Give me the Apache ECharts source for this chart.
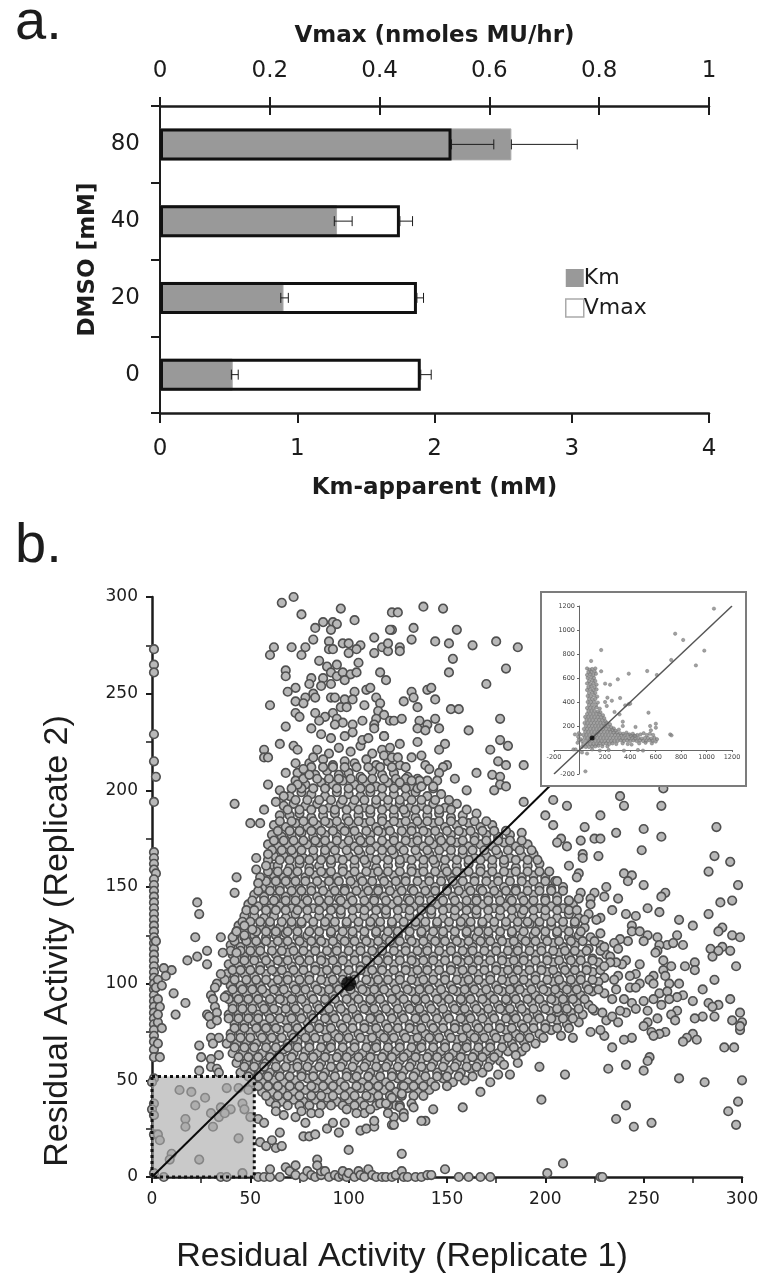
<!DOCTYPE html>
<html>
<head>
<meta charset="utf-8">
<title>DMSO kinetics and replicate scatter</title>
<script src="https://cdn.jsdelivr.net/npm/echarts@6/dist/echarts.min.js"></script>
<style>
  html, body { margin: 0; padding: 0; background: #fff; }
  #chart { width: 769px; height: 1283px; }
</style>
</head>
<body>
<div id="chart"></div>
<script>
// panel a
const dmsoLevels = ['0', '20', '40', '80'];
const kmValues = [0.53, 0.90, 1.29, 2.56];
const vmaxValues = [0.475, 0.468, 0.437, 0.531];
const kmErrors = [[0, 0.52, 0.57], [1, 0.88, 0.935], [2, 1.27, 1.40], [3, 2.56, 3.04]];
const vmaxErrors = [[0, 0.475, 0.494], [1, 0.468, 0.48], [2, 0.437, 0.46], [3, 0.531, 0.608]];

// panel b as [replicate 1, replicate 2]
const axisColumn = [[1,273],[1,265],[1,261],[1,229],[1,215],[2,207],[1,194],[1,168],[1,165],[1,162],[1,159],[2,157],[1,154],[1,151],[1,148],[1,145],[1,142],[1,139],[1,136],[1,133],[1,130],[1,127],[1,124],[1,121],[1,118],[1,115],[1,112],[1,109],[1,106],[1,103],[1,100],[1,97],[1,94],[1,91],[1,88],[1,85],[1,82],[1,79],[1,76],[1,73],[1,70],[1,66],[1,62],[1,51],[0,49],[1,38],[0,35],[1,32],[1,22],[1,2]];
const nearColumn = [[2,122],[10,107],[6,108],[7,104],[3,102],[2,98],[11,95],[17,90],[12,84],[3,80],[5,77],[3,69],[4,62],[3,22],[4,19],[6,0],[5,99],[3,92],[4,88],[3,84]];
const bottomRow = [[54,0],[57,0],[60,0],[60,4],[65,0],[68,5],[70,3],[73,1],[73,6],[77,0],[79,3],[81,1],[83,0],[86,1],[86,3],[88,3],[90,0],[93,1],[95,0],[97,1],[97,3],[99,0],[100,2],[103,0],[105,3],[106,1],[108,0],[110,4],[112,1],[114,0],[117,0],[119,0],[122,0],[124,1],[127,3],[128,0],[130,0],[134,0],[137,0],[140,1],[142,1],[149,4],[156,0],[161,0],[167,0],[172,0],[201,2],[209,7],[228,0],[229,0],[127,12],[100,14],[84,9],[84,6]];
const boxPoints = [[14,45],[20,44],[27,41],[22,37],[30,33],[17,30],[17,26],[31,26],[35,36],[40,35],[34,31],[37,33],[46,38],[47,35],[50,31],[38,46],[44,46],[49,45],[44,20],[10,12],[9,9],[24,9],[46,2],[35,0],[38,0],[54,30],[57,28],[55,18],[58,16],[61,19],[63,15],[66,16],[65,23]];
const leftEdge = [[23,142],[24,136],[42,147],[22,124],[35,124],[41,124],[43,127],[47,130],[47,125],[51,128],[28,117],[36,116],[23,114],[18,112],[28,110],[43,116],[35,105],[33,100],[32,98],[30,94],[31,92],[37,93],[32,88],[33,85],[28,84],[29,83],[30,79],[33,81],[30,72],[34,72],[31,69],[24,68],[25,62],[30,61],[34,63],[30,57],[24,55],[33,56],[34,54],[42,193],[50,183],[55,183],[57,190],[53,165],[59,167],[58,161],[53,159],[43,155],[55,155],[54,152],[57,221],[57,217],[59,217],[65,224],[72,223],[74,221],[82,217],[73,214],[77,211],[68,209],[80,208],[59,203],[65,200],[67,197],[63,194],[74,203],[71,201]];
const upperPoints = [[66,297],[72,300],[76,291],[96,294],[87,287],[92,287],[94,286],[83,284],[91,283],[103,288],[122,292],[125,292],[122,283],[82,278],[113,279],[90,277],[97,276],[100,276],[106,275],[62,274],[71,274],[78,274],[117,274],[60,270],[76,270],[90,273],[92,273],[100,271],[104,273],[113,271],[120,272],[85,267],[89,264],[94,265],[105,266],[68,262],[68,259],[91,261],[94,259],[97,261],[101,260],[104,261],[116,261],[119,257],[81,258],[87,258],[98,257],[80,255],[73,253],[86,254],[91,255],[82,250],[69,251],[103,251],[109,252],[111,253],[114,248],[83,248],[78,248],[73,246],[77,245],[91,248],[93,248],[98,247],[102,247],[96,243],[99,243],[108,244],[60,244],[116,245],[73,240],[75,238],[83,240],[92,240],[115,241],[118,239],[88,238],[85,236],[94,237],[107,236],[114,237],[121,236],[123,236],[97,235],[113,234],[102,234],[93,234],[81,232],[68,233],[113,232],[102,230],[86,229],[91,227],[98,228],[107,226],[110,227],[118,228],
  [138,295],[148,294],[121,283],[133,284],[155,283],[132,278],[144,277],[151,276],[163,275],[175,277],[186,274],[120,276],[126,274],[126,272],[153,268],[151,261],[180,263],[170,255],[132,251],[140,252],[142,253],[133,248],[144,247],[128,246],[135,243],[152,242],[156,242],[177,237],[127,237],[136,236],[140,234],[144,237],[135,232],[139,231],[146,232],[161,231],[118,228],[126,224],[135,225],[177,226],[181,223],[121,222],[149,224],[146,221],[172,221],[137,218],[132,217],[118,218],[122,217],[125,217],[176,215],[180,213],[189,213],[139,213],[141,211],[150,213],[148,212],[129,212],[146,209],[165,209],[173,208],[177,207],[154,206],[177,203],[180,202],[145,205],[140,205],[136,205],[132,205],[126,204],[137,202],[143,202],[160,200],[174,200]];
const rightPoints = [[260,201],[238,197],[240,192],[259,192],[204,195],[211,192],[189,194],[228,187],[200,187],[204,182],[220,181],[236,178],[250,180],[287,181],[259,176],[218,174],[225,175],[228,175],[208,175],[206,173],[249,169],[211,171],[219,167],[219,165],[227,166],[286,166],[294,163],[283,158],[212,161],[217,157],[216,155],[240,157],[244,156],[242,153],[298,151],[250,151],[231,150],[261,147],[259,145],[225,147],[230,145],[218,147],[217,144],[223,144],[237,144],[295,143],[289,142],[223,141],[252,139],[258,137],[234,138],[241,136],[283,136],[222,136],[246,135],[268,133],[220,133],[228,134],[226,133],[244,130],[275,130],[290,129],[288,127],[244,127],[248,127],[228,126],[252,125],[295,125],[299,124],[267,125],[257,124],[250,122],[242,122],[238,123],[235,121],[262,120],[265,121],[270,120],[258,120],[237,118],[230,119],[290,119],[284,118],[288,117],[294,117],[257,117],[256,116],[285,114],[233,114],[260,112],[241,112],[239,110],[236,111],[233,111],[248,110],[264,109],[276,111],[271,109],[276,107],[297,109],[260,107],[230,109],[246,105],[237,104],[235,102],[243,104],[255,104],[261,104],[253,102],[255,100],[263,100],[268,100],[286,102],[248,100],[243,98],[246,98],[236,97],[280,97],[258,95],[262,96],[270,94],[267,93],[263,92],[294,92],[275,91],[283,90],[288,89],[285,88],[255,92],[250,91],[244,90],[240,92],[234,92],[259,89],[267,86],[264,84],[252,86],[246,87],[241,85],[238,86],[231,81],[234,83],[229,85],[299,85],[286,83],[280,83],[276,82],[257,82],[266,81],[237,80],[300,80],[295,81],[252,80],[250,78],[299,76],[299,78],[261,75],[258,74],[254,75],[255,73],[275,74],[272,72],[270,70],[277,71],[244,72],[240,71],[230,73],[228,76],[234,67],[291,67],[296,67],[223,75],[253,62],[252,60],[250,55],[241,58],[232,56],[210,53],[197,57],[268,51],[281,49],[300,50],[198,40],[298,39],[293,34],[297,27],[241,37],[236,30],[245,26],[254,28],[158,36],[143,35],[167,44],[172,49],[182,53],[176,53],[186,59],[185,63],[179,58],[139,29],[137,29],[132,38],[133,36],[128,47],[127,43],[126,36],[128,33],[128,31],[123,27]];
const lowerEdge = [[77,21],[80,21],[83,22],[95,23],[98,28],[89,25],[106,24],[109,25],[113,26],[113,29],[108,33],[111,35],[122,27],[123,31],[120,33],[73,31],[76,34],[67,32],[63,34],[78,28],[92,28],[81,33],[85,33],[99,35],[104,33],[116,38],[119,38],[122,41]];
const denseCloud = [
  [84,221],[90,219],[95,222],[101,220],[106,223],[112,219],[117,221],
  [80,214],[87,216],[92,213],[98,215],[103,214],[109,216],[114,213],[120,215],[126,213],
  [74,209],[83,208],[89,210],[95,208],[100,209],[106,207],[112,210],[117,208],[123,209],[130,207],
  [73,205],[78,203],[86,204],[92,203],[97,205],[103,203],[109,204],[114,202],[120,204],[126,203],[132,202],[138,204],
  [70,197],[76,199],[81,198],[88,197],[94,199],[100,198],[106,197],[111,199],[117,197],[123,198],[129,197],[134,199],[140,197],[147,198],
  [67,192],[72,193],[78,192],[84,193],[90,191],[96,193],[102,192],[108,191],[114,193],[120,192],[126,193],[131,191],[137,192],[143,193],[149,191],[155,193],
  [65,187],[70,187],[75,188],[81,186],[87,187],[93,188],[99,186],[105,187],[111,188],[117,186],[123,187],[129,188],[134,186],[140,187],[146,188],[152,186],[158,187],[165,188],
  [62,182],[68,181],[73,183],[79,181],[84,182],[90,183],[96,181],[102,182],[108,183],[114,181],[120,182],[126,183],[132,181],[137,182],[143,183],[149,181],[155,182],[161,183],[167,181],[173,182],
  [61,177],[66,176],[71,177],[76,178],[82,176],[88,177],[94,176],[100,178],[105,176],[111,177],[117,178],[123,176],[129,177],[135,176],[140,178],[146,176],[152,177],[158,178],[164,176],[170,177],[176,176],[182,177],[188,178],
  [59,172],[64,171],[69,172],[74,171],[79,172],[85,173],[91,171],[97,172],[103,171],[108,173],[114,171],[120,172],[126,171],[132,173],[138,171],[143,172],[149,171],[155,173],[161,171],[167,172],[173,171],[179,173],[185,171],[191,172],
  [62,166],[67,166],[72,167],[77,165],[82,166],[88,167],[94,165],[100,166],[106,167],[111,165],[117,166],[123,167],[129,165],[135,166],[141,167],[146,165],[152,166],[158,167],[164,165],[170,166],[176,167],[182,165],[188,166],[194,167],
  [60,161],[64,161],[70,160],[75,162],[80,160],[85,161],[91,162],[97,160],[103,161],[109,162],[114,160],[120,161],[126,162],[132,160],[138,161],[144,162],[149,160],[155,161],[161,162],[167,160],[173,161],[179,162],[185,160],[191,161],[197,162],
  [62,156],[67,155],[72,156],[78,155],[83,156],[88,157],[94,155],[100,156],[106,155],[112,157],[117,155],[123,156],[129,155],[135,157],[141,155],[147,156],[152,155],[158,157],[164,155],[170,156],[176,155],[182,157],[188,155],[194,156],[200,155],[205,153],
  [57,150],[60,151],[65,150],[70,151],[75,149],[81,150],[86,151],[92,150],[98,149],[103,151],[109,150],[115,149],[120,151],[126,150],[132,149],[138,151],[144,150],[150,149],[155,151],[161,150],[167,149],[173,151],[179,150],[185,149],[191,151],[197,150],[203,149],[209,150],
  [52,146],[57,145],[63,144],[68,145],[73,146],[78,144],[84,145],[90,146],[95,144],[101,145],[107,146],[113,144],[118,145],[124,146],[130,144],[136,145],[141,146],[147,144],[153,145],[159,146],[165,144],[171,145],[176,146],[182,144],[188,145],[194,146],[200,144],[206,145],[212,143],
  [49,141],[54,140],[60,139],[65,140],[71,139],[76,141],[82,139],[87,140],[93,139],[99,141],[105,139],[110,140],[116,139],[122,141],[128,139],[133,140],[139,139],[145,141],[151,139],[156,140],[162,139],[168,141],[174,139],[180,140],[186,139],[191,141],[197,139],[203,140],[209,139],[214,141],
  [47,135],[52,135],[57,134],[62,135],[68,134],[73,136],[79,134],[85,135],[90,134],[96,136],[102,134],[108,135],[113,134],[119,136],[125,134],[131,135],[136,134],[142,136],[148,134],[154,135],[159,134],[165,136],[171,134],[177,135],[183,134],[188,136],[194,134],[200,135],[206,134],[212,136],[217,134],
  [44,130],[49,130],[55,129],[60,130],[65,129],[71,130],[76,131],[82,129],[88,130],[93,129],[99,131],[105,129],[111,130],[116,129],[122,131],[128,129],[134,130],[139,129],[145,131],[151,129],[157,130],[162,129],[168,131],[174,129],[180,130],[186,129],[192,131],[197,129],[203,130],[209,129],[215,131],[220,129],
  [42,125],[47,124],[52,125],[58,124],[63,125],[68,126],[74,124],[79,125],[85,124],[91,126],[96,124],[102,125],[108,124],[114,126],[119,124],[125,125],[131,124],[137,126],[142,124],[148,125],[154,124],[160,126],[165,124],[171,125],[177,124],[183,126],[188,124],[194,125],[200,124],[206,126],[212,124],[217,125],[223,124],
  [40,120],[45,119],[50,120],[55,119],[61,120],[66,121],[71,119],[77,120],[83,119],[88,121],[94,119],[100,120],[106,119],[111,121],[117,119],[123,120],[129,119],[134,121],[140,119],[146,120],[152,119],[157,121],[163,119],[169,120],[175,119],[181,121],[186,119],[192,120],[198,119],[204,121],[209,119],[215,120],[222,118],[228,120],
  [41,115],[47,114],[52,115],[57,114],[63,115],[69,116],[74,114],[80,115],[86,114],[91,116],[97,114],[103,115],[109,114],[114,116],[120,114],[126,115],[132,114],[137,116],[143,114],[149,115],[155,114],[160,116],[166,114],[172,115],[178,114],[184,116],[189,114],[195,115],[201,114],[207,116],[212,114],[218,115],[224,113],[231,115],
  [39,110],[44,109],[49,110],[55,109],[60,110],[66,111],[71,109],[77,110],[83,109],[88,111],[94,109],[100,110],[106,109],[111,111],[117,109],[123,110],[129,109],[134,111],[140,109],[146,110],[152,109],[157,111],[163,109],[169,110],[175,109],[181,111],[186,109],[192,110],[198,109],[204,111],[209,109],[215,110],[221,109],[227,111],
  [38,105],[42,104],[47,105],[52,104],[58,105],[63,106],[69,104],[74,105],[80,104],[86,106],[91,104],[97,105],[103,104],[109,106],[114,104],[120,105],[126,104],[132,106],[137,104],[143,105],[149,104],[155,106],[160,104],[166,105],[172,104],[178,106],[183,104],[189,105],[195,104],[201,106],[206,104],[212,105],[218,104],[224,106],[230,103],
  [40,99],[45,99],[50,100],[55,99],[61,100],[66,101],[72,99],[77,100],[83,99],[89,101],[94,99],[100,100],[106,99],[111,101],[117,99],[123,100],[129,99],[135,101],[140,99],[146,100],[152,99],[158,101],[163,99],[169,100],[175,99],[181,101],[186,99],[192,100],[198,99],[204,101],[209,99],[215,100],[221,99],[227,101],
  [38,94],[43,94],[48,95],[53,94],[58,95],[64,96],[69,94],[75,95],[81,94],[86,96],[92,94],[98,95],[103,94],[109,96],[115,94],[121,95],[126,94],[132,96],[138,94],[144,95],[149,94],[155,96],[161,94],[167,95],[172,94],[178,96],[184,94],[190,95],[195,94],[201,96],[207,94],[213,95],[218,94],[224,96],[230,95],
  [41,89],[46,89],[51,90],[56,89],[61,90],[67,91],[72,89],[78,90],[84,89],[89,91],[95,89],[101,90],[107,89],[112,91],[118,89],[124,90],[130,89],[135,91],[141,89],[147,90],[153,89],[158,91],[164,89],[170,90],[176,89],[181,91],[187,89],[193,90],[199,89],[205,91],[210,89],[216,90],[222,89],
  [39,84],[44,84],[49,85],[54,84],[59,85],[64,86],[70,84],[75,85],[81,84],[87,86],[92,84],[98,85],[104,84],[110,86],[115,84],[121,85],[127,84],[133,86],[138,84],[144,85],[150,84],[156,86],[161,84],[167,85],[173,84],[179,86],[184,84],[190,85],[196,84],[202,86],[207,84],[213,85],[219,84],[225,86],
  [42,79],[47,79],[52,80],[57,79],[62,80],[68,81],[73,79],[79,80],[85,79],[90,81],[96,79],[102,80],[108,79],[113,81],[119,79],[125,80],[131,79],[136,81],[142,79],[148,80],[154,79],[159,81],[165,79],[171,80],[177,79],[183,81],[188,79],[194,80],[200,79],[206,81],[211,79],[217,80],
  [40,74],[45,74],[50,75],[55,74],[60,75],[65,76],[71,74],[76,75],[82,74],[88,76],[93,74],[99,75],[105,74],[111,76],[116,74],[122,75],[128,74],[134,76],[139,74],[145,75],[151,74],[157,76],[162,74],[168,75],[174,74],[180,76],[185,74],[191,75],[197,74],[203,76],[208,73],[214,72],
  [38,69],[43,69],[48,70],[53,69],[58,70],[63,71],[69,69],[74,70],[80,69],[86,71],[91,69],[97,70],[103,69],[109,71],[114,69],[120,70],[126,69],[132,71],[137,69],[143,70],[149,69],[155,71],[160,69],[166,70],[172,69],[178,71],[183,69],[189,70],[195,69],
  [41,64],[46,64],[51,65],[56,64],[61,65],[67,66],[72,64],[78,65],[84,64],[89,66],[95,64],[101,65],[107,64],[112,66],[118,64],[124,65],[130,64],[135,66],[141,64],[147,65],[153,64],[158,66],[164,64],[170,65],[176,64],[181,65],[188,65],
  [43,59],[48,59],[53,60],[58,59],[63,60],[69,61],[74,59],[80,60],[86,59],[91,61],[97,59],[103,60],[109,59],[114,61],[120,59],[126,60],[132,59],[137,61],[143,59],[149,60],[155,59],[160,61],[166,59],[172,60],[177,60],
  [45,54],[50,54],[55,55],[60,54],[65,55],[71,56],[76,54],[82,55],[88,54],[93,56],[99,54],[105,55],[111,54],[116,56],[122,54],[128,55],[134,54],[139,56],[145,54],[151,55],[157,54],[162,56],[168,54],
  [51,49],[56,49],[62,50],[67,49],[73,50],[79,51],[84,49],[90,50],[96,49],[102,51],[107,49],[113,50],[119,49],[125,51],[130,49],[136,50],[142,49],[148,51],[153,49],[159,50],
  [56,44],[61,44],[66,45],[72,44],[78,45],[83,46],[89,44],[95,45],[101,44],[106,46],[112,44],[118,45],[124,44],[130,46],[135,44],[141,45],
  [60,39],[66,39],[72,40],[77,39],[83,40],[89,41],[94,39],[100,40],[106,39],[111,41],[116,39],[124,37]
];
// the packed middle of the cloud, one row per level: replicate 2 first, then replicate 1 values
const packedRows = [
  [212,81,87,92,98,104,110,116,122],
  [206,77,84,90,95,101,107,112,118,124,129,135],
  [201,76,82,88,94,100,106,111,117,123,129,135,143],
  [195,73,79,85,91,97,103,108,114,120,126,132,137,144,151],
  [190,69,75,81,87,93,99,105,111,117,123,128,134,140,146,152,160],
  [184,65,71,77,82,88,94,100,105,111,117,123,129,135,140,146,152,158,164,170],
  [179,64,70,75,81,86,92,98,103,109,115,121,127,132,138,144,150,156,162,168,174,180],
  [174,62,67,72,77,83,88,94,100,106,111,117,123,129,135,141,147,152,158,164,170,176,182,188],
  [169,61,66,71,76,82,88,93,99,105,111,117,122,128,134,140,146,152,158,163,169,175,181,187,193],
  [164,59,65,70,75,80,86,91,97,103,108,114,120,126,132,138,143,149,155,161,167,173,179,185,191,196],
  [158,59,64,69,74,80,86,91,97,103,109,115,120,126,132,138,144,150,155,161,167,173,179,185,191,197,202],
  [153,58,63,68,73,78,84,90,95,101,107,112,118,124,129,135,141,147,153,158,164,170,176,182,188,194,200,206],
  [148,54,60,65,71,76,81,87,93,98,104,110,115,121,127,133,139,144,150,156,162,168,174,180,185,191,197,203,209],
  [143,51,57,62,68,73,79,85,90,96,102,108,113,119,125,131,136,142,148,154,160,165,171,177,183,189,194,200,206,212],
  [138,48,52,58,63,68,74,79,85,91,96,102,108,114,119,125,131,137,142,148,154,160,165,171,177,183,189,194,200,206,212,216],
  [132,46,50,55,60,66,71,76,82,88,93,99,105,111,116,122,128,134,139,145,151,157,162,168,174,180,186,191,197,203,209,215],
  [127,43,47,53,58,63,69,74,80,85,91,97,102,108,114,120,125,131,137,143,148,154,160,166,171,177,183,189,195,200,206,212,218],
  [122,42,48,53,58,64,69,75,81,86,92,98,103,109,115,121,126,132,138,144,149,155,161,167,172,178,184,190,195,201,207,213,219,225],
  [117,40,45,50,55,61,66,72,77,83,89,94,100,106,112,117,123,129,135,140,146,152,158,163,169,175,181,186,192,198,204,210,215,221,228],
  [112,42,47,52,58,64,69,75,80,86,92,97,103,109,115,120,126,132,138,143,149,155,161,166,172,178,184,189,195,201,207,213,218,224],
  [107,41,45,50,55,61,66,72,77,83,89,94,100,106,112,117,123,129,135,140,146,152,158,163,169,175,181,186,192,198,204,210,215,221,228],
  [102,37,42,48,53,58,64,69,75,80,86,92,97,103,109,115,120,126,132,138,143,149,155,161,166,172,178,184,189,195,201,207,213,218,224],
  [97,41,46,51,56,62,67,73,78,84,90,95,101,107,113,118,124,130,136,141,147,153,159,164,170,176,182,187,193,199,205,211,216,222,227],
  [92,39,44,49,54,60,65,71,76,82,88,93,99,105,111,116,122,128,134,139,145,151,157,162,168,174,180,185,191,197,203,209,214,220],
  [87,41,46,51,57,62,68,73,79,85,90,96,102,108,113,119,125,131,136,142,148,154,159,165,171,177,182,188,194,200,206,211,217,224],
  [82,39,44,49,54,60,65,71,76,82,88,93,99,105,111,116,122,128,134,139,145,151,157,162,168,174,180,185,191,197,203,209,214],
  [77,42,47,53,58,63,69,74,80,85,91,97,102,108,114,120,125,131,137,143,148,154,160,166,171,177,183,189,194,200,206,212],
  [72,40,45,50,56,61,66,72,78,83,89,95,100,106,112,118,123,129,135,141,146,152,158,164,169,175,181,187,192,199],
  [67,42,47,52,58,63,69,74,80,86,91,97,103,109,114,120,126,132,137,143,149,155,160,166,172,178,184,190],
  [62,44,49,54,60,65,71,77,82,88,94,99,105,111,117,122,128,134,140,145,151,157,163,168,174],
  [57,47,52,57,63,68,74,79,85,91,96,102,108,114,119,125,131,137,142,148,154,160,165,171],
  [52,49,54,59,65,70,76,82,87,93,99,104,110,116,122,127,133,139,145,150,156,163],
  [47,54,59,64,70,75,81,87,92,98,104,110,115,121,127,133,138,144,150],
  [42,58,64,69,75,81,86,92,98,103,109,115,121,127,133,138],
  [37,63,69,75,80,86,91,97,103,108,114,120,126]
];
const packedCloud = packedRows.flatMap(row => row.slice(1).map(x => [x, row[0]]));
const centerPoint = [[100, 100]];
const shadedBox = [[0, 0, 52, 52]];
const identityLine = [[0, 0], [300, 300]];

// inset: whole data range
const insetIdentity = [[-200, -200], [1200, 1200]];
const insetCenter = [[100, 100]];
const insetOutliers = [[1058,1178],[753,969],[816,917],[982,828],[916,705],[171,833],[92,742],[722,750],[609,625],[533,658],[388,636],[302,589],[171,656],[202,553],[241,544],[220,436],[255,411],[320,433],[215,367],[202,400],[543,311],[386,381],[360,372],[399,386],[276,317],[315,297],[601,219],[601,186],[714,130],[724,122],[47,-178],[-47,5],[-30,5],[438,117],[556,200],[562,164],[441,192],[341,236],[341,200],[20,-20],[60,-30]];
const insetCloud = [[60,680],[80,670],[100,675],[125,680],[70,650],[95,650],[120,655],[60,625],[85,630],[110,625],[130,635],[65,600],[90,605],[115,600],[75,575],[100,580],[125,575],[60,555],[85,550],[110,555],[135,545],[70,525],[95,530],[120,525],[60,500],[85,505],[110,500],[135,505],[75,475],[100,480],[125,475],[65,450],[90,450],[115,455],[140,445],[75,425],[100,425],[125,425],[65,400],[90,400],[115,400],[145,395],[75,375],[100,375],[130,375],[60,350],[85,350],[110,350],[135,355],[160,345],[70,325],[95,325],[120,325],[145,320],[165,315],[60,300],[85,300],[110,300],[135,300],[160,295],[185,290],[45,275],[70,275],[95,275],[120,275],[145,275],[170,270],[195,265],[55,250],[80,250],[105,250],[130,250],[155,250],[180,245],[205,240],[40,225],[65,225],[90,225],[115,225],[140,225],[165,225],[190,220],[215,225],[240,215],[50,200],[75,200],[100,200],[125,200],[150,200],[175,200],[200,200],[225,195],[250,190],[270,180],[35,175],[60,175],[85,175],[110,175],[135,175],[160,175],[185,175],[210,175],[235,170],[260,165],[285,160],[310,170],[45,150],[70,150],[95,150],[120,150],[145,150],[170,150],[195,150],[220,150],[245,150],[270,145],[295,145],[320,140],[345,135],[370,145],[395,130],[420,135],[30,125],[55,125],[80,125],[105,125],[130,125],[155,125],[180,125],[205,125],[230,125],[255,125],[280,125],[305,125],[330,120],[355,120],[380,125],[405,115],[430,120],[455,125],[480,130],[505,140],[530,125],[555,135],[580,125],[40,100],[65,100],[90,100],[115,100],[140,100],[165,100],[190,100],[215,100],[240,100],[265,100],[290,100],[315,100],[340,95],[365,100],[390,95],[415,100],[440,95],[465,100],[490,95],[515,100],[540,100],[565,95],[590,100],[610,90],[20,75],[50,75],[75,75],[100,75],[125,75],[150,75],[175,75],[200,75],[225,75],[250,75],[275,75],[300,75],[325,80],[350,75],[375,80],[400,75],[425,80],[450,75],[475,80],[500,75],[525,75],[550,80],[575,75],[600,70],[30,50],[60,50],[85,50],[110,50],[135,50],[160,55],[185,50],[210,55],[235,50],[260,55],[290,50],[340,55],[380,50],[410,45],[470,55],[520,60],[570,55],[20,25],[50,25],[75,25],[100,30],[125,30],[150,35],[180,30],[220,30],[-10,110],[-5,85],[-15,60],[5,130],[10,90],[-5,140],[100,5],[160,-5],[230,0],[350,-5],[460,0],[500,-5],[-35,130]];

const tickFont = 'DejaVu Sans';
const ink = '#1c1c1c';

/** 把 [x, y] 画成主图里的灰色圆点 */
function dotSeries(points) {
  return {
    type: 'scatter',
    xAxisIndex: 3,
    yAxisIndex: 1,
    data: points,
    symbolSize: 8.6,
    clip: false,
    z: 2,
    silent: true,
    itemStyle: { color: '#b8b8b8', borderColor: '#505050', borderWidth: 1.6, opacity: 1 }
  };
}

/** 误差线：中间一条横线，两头各一个短竖线 */
function renderError(params, api) {
  const y = api.coord([api.value(1), api.value(0)])[1];
  const lo = api.coord([api.value(1), api.value(0)])[0];
  const hi = api.coord([api.value(2), api.value(0)])[0];
  const lineStyle = { stroke: ink, lineWidth: 1 };
  return {
    type: 'group',
    children: [
      { type: 'line', shape: { x1: lo, y1: y, x2: hi, y2: y }, style: lineStyle },
      { type: 'line', shape: { x1: lo, y1: y - 5, x2: lo, y2: y + 5 }, style: lineStyle },
      { type: 'line', shape: { x1: hi, y1: y - 5, x2: hi, y2: y + 5 }, style: lineStyle }
    ]
  };
}

/** 左下角虚线灰框 */
function renderBox(params, api) {
  const a = api.coord([api.value(0), api.value(1)]);
  const b = api.coord([api.value(2), api.value(3)]);
  return {
    type: 'rect',
    shape: { x: a[0], y: b[1], width: b[0] - a[0], height: a[1] - b[1] },
    style: { fill: 'rgba(168,168,168,0.62)', stroke: '#111', lineWidth: 3, lineDash: [3, 3] }
  };
}

function boldName(size) {
  return { fontFamily: tickFont, fontWeight: 'bold', fontSize: size, color: ink };
}

const chart = echarts.init(document.getElementById('chart'), null, { renderer: 'canvas' });

const option = {
  animation: false,
  backgroundColor: '#fff',
  title: [
    { text: 'a.', left: 10, top: -9, textStyle: { fontFamily: 'Liberation Sans', fontSize: 56, fontWeight: 'normal', color: ink } },
    { text: 'b.', left: 10, top: 514, textStyle: { fontFamily: 'Liberation Sans', fontSize: 56, fontWeight: 'normal', color: ink } }
  ],
  legend: {
    orient: 'vertical',
    left: 560,
    top: 262,
    itemWidth: 18,
    itemHeight: 18,
    itemGap: 8,
    textStyle: { fontFamily: tickFont, fontSize: 22, color: ink, padding: [0, 0, 0, -5] },
    data: [
      { name: 'Km', icon: 'rect', itemStyle: { color: '#999', borderWidth: 0 } },
      { name: 'Vmax', icon: 'rect', itemStyle: { color: '#fff', borderColor: '#aaa', borderWidth: 1.5 } }
    ]
  },
  grid: [
    { left: 160, top: 106, width: 549, height: 307 },
    { left: 152, top: 597, width: 590, height: 580 },
    { left: 554, top: 606, width: 178, height: 168, z: 30 }
  ],
  graphic: [
    {
      type: 'rect',
      z: 25,
      silent: true,
      shape: { x: 541, y: 592, width: 205, height: 194 },
      style: { fill: '#fff', stroke: '#7c7c7c', lineWidth: 2 }
    },
    {
      type: 'text',
      x: 402,
      y: 1257,
      silent: true,
      style: { text: 'Residual Activity (Replicate 1)', font: '34px "Liberation Sans"', fill: ink, align: 'center', verticalAlign: 'middle' }
    },
    {
      type: 'text',
      x: 58,
      y: 941,
      rotation: Math.PI / 2,
      silent: true,
      style: { text: 'Residual Activity (Replicate 2)', font: '34px "Liberation Sans"', fill: ink, align: 'center', verticalAlign: 'middle' }
    }
  ],
  xAxis: [
    {
      gridIndex: 0, type: 'value', position: 'bottom', min: 0, max: 4, interval: 1,
      name: 'Km-apparent (mM)', nameLocation: 'middle', nameGap: 64, nameTextStyle: boldName(23),
      axisLine: { show: true, onZero: false, lineStyle: { color: ink, width: 2.5 } },
      axisTick: { show: true, length: 10, lineStyle: { color: ink, width: 2 } },
      axisLabel: { fontFamily: tickFont, fontSize: 23, color: ink, margin: 25 },
      splitLine: { show: false }
    },
    {
      gridIndex: 0, type: 'value', position: 'top', min: 0, max: 1, interval: 0.2,
      name: 'Vmax (nmoles MU/hr)', nameLocation: 'middle', nameGap: 58, nameTextStyle: boldName(23),
      axisLine: { show: true, onZero: false, lineStyle: { color: ink, width: 2.5 } },
      axisTick: { show: true, length: 9, lineStyle: { color: ink, width: 2 } },
      axisLabel: { fontFamily: tickFont, fontSize: 23, color: ink, margin: 23 },
      splitLine: { show: false }
    },
    {
      gridIndex: 0, type: 'value', position: 'top', min: 0, max: 1, interval: 0.2,
      axisLine: { show: false },
      axisTick: { show: true, inside: true, length: 9, lineStyle: { color: ink, width: 2 } },
      axisLabel: { show: false },
      splitLine: { show: false }
    },
    {
      gridIndex: 1, type: 'value', position: 'bottom', min: 0, max: 300, interval: 50,
      axisLine: { show: true, onZero: false, lineStyle: { color: ink, width: 2.5 } },
      axisTick: { show: true, length: 6, lineStyle: { color: ink, width: 2 } },
      minorTick: { show: true, splitNumber: 2, length: 6, lineStyle: { color: ink, width: 1.5 } },
      axisLabel: { fontFamily: tickFont, fontSize: 17, color: ink, margin: 14 },
      splitLine: { show: false }
    },
    {
      gridIndex: 2, type: 'value', position: 'bottom', offset: -24, min: -200, max: 1200, interval: 200, z: 30,
      axisLine: { show: true, onZero: false, lineStyle: { color: '#666', width: 1 } },
      axisTick: { show: true, length: 2, lineStyle: { color: '#666', width: 1 } },
      axisLabel: { fontFamily: tickFont, fontSize: 6.5, color: '#444', margin: 4, formatter: v => (v === 0 ? '' : v) },
      splitLine: { show: false }
    }
  ],
  yAxis: [
    {
      gridIndex: 0, type: 'category', data: dmsoLevels, position: 'left',
      name: 'DMSO [mM]', nameLocation: 'middle', nameGap: 59, nameTextStyle: boldName(23),
      axisLine: { show: true, onZero: false, lineStyle: { color: ink, width: 2 } },
      axisTick: { show: true, length: 9, lineStyle: { color: ink, width: 2 } },
      axisLabel: { fontFamily: tickFont, fontSize: 23, color: ink, margin: 20 },
      splitLine: { show: false }
    },
    {
      gridIndex: 1, type: 'value', position: 'left', min: 0, max: 300, interval: 50,
      axisLine: { show: true, onZero: false, lineStyle: { color: ink, width: 2.5 } },
      axisTick: { show: true, length: 6, lineStyle: { color: ink, width: 2 } },
      minorTick: { show: true, splitNumber: 2, length: 6, lineStyle: { color: ink, width: 1.5 } },
      axisLabel: { fontFamily: tickFont, fontSize: 17, color: ink, margin: 14 },
      splitLine: { show: false }
    },
    {
      gridIndex: 2, type: 'value', position: 'left', offset: -25, min: -200, max: 1200, interval: 200, z: 30,
      axisLine: { show: true, onZero: false, lineStyle: { color: '#666', width: 1 } },
      axisTick: { show: true, length: 2, lineStyle: { color: '#666', width: 1 } },
      axisLabel: { fontFamily: tickFont, fontSize: 6.5, color: '#444', margin: 4, formatter: v => (v === 0 ? '' : v) },
      splitLine: { show: false }
    }
  ],
  series: [
    {
      name: 'Km', type: 'bar', xAxisIndex: 0, yAxisIndex: 0, data: kmValues,
      barWidth: 32, barGap: '-100%', z: 2,
      itemStyle: { color: '#999', borderColor: '#aaa', borderWidth: 1 }
    },
    {
      name: 'Vmax', type: 'bar', xAxisIndex: 1, yAxisIndex: 0, data: vmaxValues,
      barWidth: 32, barGap: '-100%', z: 3,
      itemStyle: { color: 'rgba(255,255,255,0)', borderColor: '#111', borderWidth: 3 }
    },
    {
      type: 'custom', xAxisIndex: 0, yAxisIndex: 0, data: kmErrors, z: 4, silent: true,
      encode: { x: [1, 2], y: 0 }, renderItem: renderError
    },
    {
      type: 'custom', xAxisIndex: 1, yAxisIndex: 0, data: vmaxErrors, z: 4, silent: true,
      encode: { x: [1, 2], y: 0 }, renderItem: renderError
    },
    dotSeries(denseCloud),
    dotSeries(packedCloud),
    dotSeries(leftEdge),
    dotSeries(lowerEdge),
    dotSeries(upperPoints),
    dotSeries(rightPoints),
    dotSeries(axisColumn),
    dotSeries(nearColumn),
    dotSeries(bottomRow),
    dotSeries(boxPoints),
    {
      type: 'custom', xAxisIndex: 3, yAxisIndex: 1, data: shadedBox, z: 5, silent: true,
      encode: { x: [0, 2], y: [1, 3] }, renderItem: renderBox
    },
    {
      type: 'line', xAxisIndex: 3, yAxisIndex: 1, data: identityLine, z: 6, silent: true,
      symbol: 'none', lineStyle: { color: '#0a0a0a', width: 2 }
    },
    {
      type: 'scatter', xAxisIndex: 3, yAxisIndex: 1, data: centerPoint, z: 7, silent: true,
      symbolSize: 15, itemStyle: { color: '#000' }
    },
    {
      type: 'scatter', xAxisIndex: 4, yAxisIndex: 2, data: insetCloud, z: 31, silent: true,
      symbolSize: 3.4, itemStyle: { color: '#8a8a8a', borderColor: '#6a6a6a', borderWidth: 0.5 }
    },
    {
      type: 'scatter', xAxisIndex: 4, yAxisIndex: 2, data: insetOutliers, z: 31, silent: true,
      symbolSize: 3.4, itemStyle: { color: '#8a8a8a', borderColor: '#6a6a6a', borderWidth: 0.5 }
    },
    {
      type: 'line', xAxisIndex: 4, yAxisIndex: 2, data: insetIdentity, z: 32, silent: true,
      symbol: 'none', lineStyle: { color: '#555', width: 1.5 }
    },
    {
      type: 'scatter', xAxisIndex: 4, yAxisIndex: 2, data: insetCenter, z: 33, silent: true,
      symbolSize: 5, itemStyle: { color: '#000' }
    }
  ]
};

chart.setOption(option);
</script>
</body>
</html>
